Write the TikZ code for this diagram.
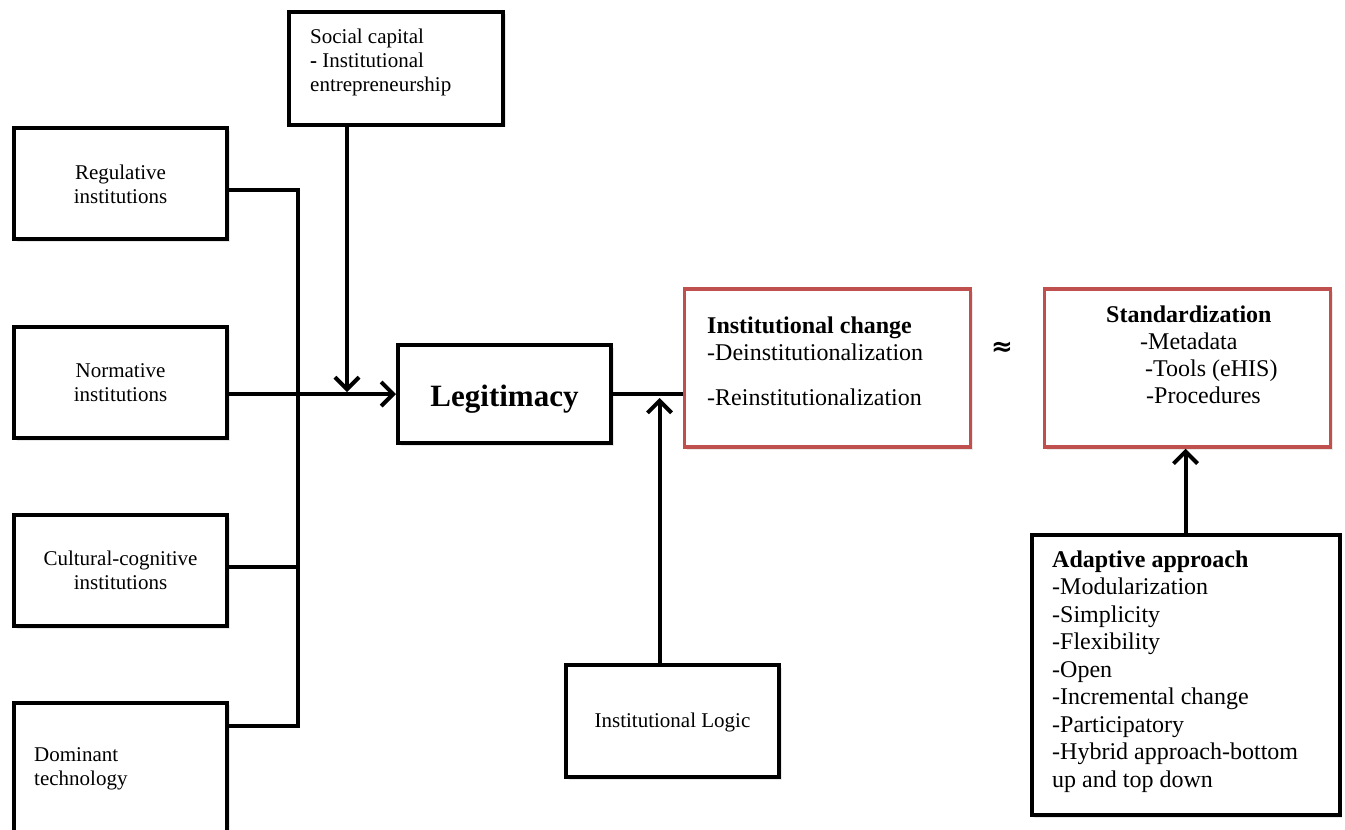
\documentclass[tikz,border=0pt]{standalone}
\usepackage{fontspec}
\setmainfont{Liberation Serif}
\newfontfamily\symbolfont{DejaVu Sans}
\usetikzlibrary{arrows.meta,shadows}
\definecolor{boxred}{HTML}{C0504D}
\begin{document}
\begin{tikzpicture}[x=1pt,y=-1pt,
  frame/.style={draw=black, line width=4pt, fill=white, inner sep=0pt,
    drop shadow={opacity=0.18, shadow xshift=2.5pt, shadow yshift=-2.5pt}},
  redframe/.style={frame, draw=boxred, line width=3.5pt},
  link/.style={line width=4pt},
  arr/.style={link, -{Straight Barb[length=12pt,width=24pt]}},
  small/.style={font=\fontsize{21}{24}\selectfont, inner sep=0pt},
  big/.style={font=\fontsize{24}{27}\selectfont, inner sep=0pt},
]
\path[use as bounding box] (0,0) rectangle (1345,830);
\clip (0,0) rectangle (1345,830);

% boxes
\node[frame, minimum width=214pt, minimum height=113pt] (soc) at (396,68) {};
\node[frame, minimum width=213pt, minimum height=111pt] (reg) at (120.5,183.5) {};
\node[frame, minimum width=213pt, minimum height=111pt] (nor) at (120.5,382.5) {};
\node[frame, minimum width=213pt, minimum height=111pt] (cul) at (120.5,570.5) {};
\node[frame, minimum width=213pt, minimum height=145pt] (dom) at (120.5,775) {};
\node[frame, minimum width=213pt, minimum height=98pt] (leg) at (504.5,394) {};
\node[frame, minimum width=213pt, minimum height=112pt] (log) at (672.5,721) {};
\node[redframe, minimum width=286pt, minimum height=158pt] (ic) at (827.5,368) {};
\node[redframe, minimum width=286pt, minimum height=158pt] (std) at (1187.5,368) {};
\node[frame, minimum width=308pt, minimum height=280pt] (ada) at (1185.5,675) {};

% texts
\node[small, anchor=north west, align=left] (soctext) at (310,26)
  {\rule{0pt}{17pt}Social capital\\\textbf{-} Institutional\\entrepreneurship};
\node[small, anchor=north, align=center] (regtext) at (120.5,162)
  {\rule{0pt}{17pt}Regulative\\institutions};
\node[small, anchor=north, align=center] (nortext) at (120.5,360)
  {\rule{0pt}{17pt}Normative\\institutions};
\node[small, anchor=north, align=center] (cultext) at (120.5,548)
  {\rule{0pt}{17pt}Cultural-cognitive\\institutions};
\node[small, anchor=north west, align=left] (domtext) at (34,744)
  {\rule{0pt}{17pt}Dominant\\technology};
\node[small, anchor=base] (logtext) at (672.5,727) {Institutional Logic};
\node[inner sep=0pt, anchor=base, font=\bfseries\fontsize{31}{36}\selectfont]
  (legtext) at (504.5,406) {Legitimacy};
\node[big, anchor=north west, align=left] (ictext) at (707,314)
  {\rule{0pt}{19pt}\textbf{Institutional change}\\-Deinstitutionalization\\[18pt]-Reinstitutionalization};
\node[big, anchor=north west, align=left] (stdtext) at (1106,303)
  {\rule{0pt}{19pt}\textbf{Standardization}\\\hspace*{34pt}-Metadata\\\hspace*{39pt}-Tools (eHIS)\\\hspace*{40pt}-Procedures};
\node[big, anchor=north west, align=left, font=\fontsize{24}{27.5}\selectfont] (adatext) at (1052,548)
  {\rule{0pt}{19pt}\textbf{Adaptive approach}\\-Modularization\\-Simplicity\\-Flexibility\\-Open\\-Incremental change\\-Participatory\\-Hybrid approach-bottom\\up and top down};
\node[inner sep=0pt, font=\symbolfont\bfseries\fontsize{26}{26}\selectfont] (approx) at (1002,348.5) {≈};

% connectors
\coordinate (busTop) at (298,190);
\coordinate (busCul) at (298,567);
\coordinate (busBot) at (298,726);
\draw[link] (reg.east |- busTop) -- (busTop) -- (busBot) -- (dom.east |- busBot);
\draw[link] (cul.east |- busCul) -- (busCul);
\draw[arr] (nor.east |- leg.west) -- (leg.west);
\coordinate (socDrop) at (347,392);
\draw[arr] (soc.south -| socDrop) -- (socDrop);
\draw[link] (leg.east) -- (leg.east -| ic.west);
\coordinate (logTip) at (659.5,398);
\draw[arr] (log.north -| logTip) -- (logTip);
\draw[arr] (ada.north) -- (ada.north |- std.south);
\end{tikzpicture}
\end{document}
